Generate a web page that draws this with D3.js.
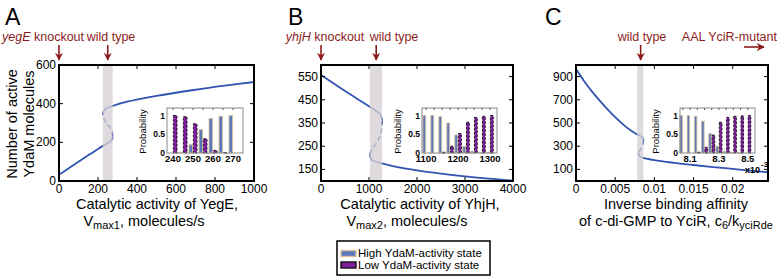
<!DOCTYPE html>
<html>
<head>
<meta charset="utf-8">
<script src="https://cdn.jsdelivr.net/npm/d3@7"></script>
<style>
  body { margin: 0; background: #fff; }
  svg { display: block; font-family: Helvetica, Arial, "Liberation Sans", sans-serif; }
</style>
</head>
<body>
<div id="chart"></div>
<script>
const width = 779;
const height = 276;
const blue = "#2f55b0";
const darkRed = "#8b1c1c";

// panel A: YegE activity vs active YdaM
const aXTicks = [0, 200, 400, 600, 800, 1000];
const aYTicks = [0, 200, 400, 600];
const aLower = [[0, 32], [50, 66], [100, 99], [150, 133], [200, 166], [240, 190], [262, 204], [272, 216], [275, 230]];
const aUnstable = [[275, 230], [272, 252], [262, 275], [245, 298], [232, 318], [226, 340]];
const aUpper = [[226, 340], [228, 358], [240, 374], [275, 388], [350, 410], [500, 440], [700, 472], [850, 493], [1000, 512]];
const aBand = [225, 275];
const aInsetX = [240, 245, 250, 255, 260, 265, 270];
const aInsetHigh = [0, 0.02, 0.22, 0.62, 0.92, 0.98, 1.0];
const aInsetLow = [1.0, 0.97, 0.78, 0.38, 0.07, 0.01, 0];

// panel B: YhjH activity
const bXTicks = [0, 1000, 2000, 3000, 4000];
const bYTicks = [150, 250, 350, 450, 550];
const bUpper = [[0, 557], [250, 522], [500, 488], [750, 455], [1000, 422], [1150, 402], [1240, 385], [1270, 362]];
const bUnstable = [[1270, 362], [1260, 325], [1220, 290], [1150, 262], [1070, 240], [1022, 215]];
const bLower = [[1022, 215], [1040, 196], [1100, 186], [1270, 176], [1500, 164], [2000, 146], [2500, 132], [3000, 120], [3500, 110], [4000, 102]];
const bBand = [1020, 1270];
const bInsetX = [1100, 1125, 1150, 1175, 1200, 1225, 1250, 1275, 1300];
const bInsetHigh = [1, 1, 0.97, 0.8, 0.48, 0.18, 0.05, 0.02, 0.01];
const bInsetLow = [0, 0, 0.02, 0.18, 0.52, 0.82, 0.95, 0.98, 1.0];

// panel C: inverse binding affinity
const cXTicks = [0, 0.005, 0.01, 0.015, 0.02];
const cYTicks = [100, 300, 500, 700, 900];
const cUpper = [[0, 965], [0.001, 865], [0.002, 775], [0.003, 695], [0.004, 620], [0.005, 550], [0.006, 488], [0.007, 435], [0.0078, 402], [0.0084, 380], [0.0086, 355]];
const cUnstable = [[0.0086, 355], [0.0085, 315], [0.0083, 280], [0.00795, 245]];
const cLower = [[0.00795, 245], [0.0081, 215], [0.0086, 200], [0.01, 180], [0.0125, 157], [0.015, 138], [0.0175, 120], [0.02, 104], [0.0225, 88], [0.0245, 76]];
const cBand = [0.0078, 0.0086];
const cInsetX = [8.05, 8.1, 8.15, 8.2, 8.25, 8.3, 8.35, 8.4, 8.45, 8.5];
const cInsetHigh = [1, 1, 0.98, 0.85, 0.52, 0.18, 0.05, 0.02, 0.01, 0];
const cInsetLow = [0, 0, 0.02, 0.15, 0.48, 0.82, 0.95, 0.98, 0.99, 1.0];

const legendLabels = ["High YdaM-activity state", "Low YdaM-activity state"];

const svg = d3.select("#chart").append("svg")
    .attr("width", width)
    .attr("height", height);

const defs = svg.append("defs");
defs.append("marker")
    .attr("id", "head")
    .attr("viewBox", "0 0 10 10")
    .attr("refX", 9).attr("refY", 5)
    .attr("markerWidth", 5).attr("markerHeight", 5)
    .attr("orient", "auto")
    .append("path")
    .attr("d", "M0,0 L10,5 L0,10 L3,5 Z")
    .attr("fill", darkRed);

const panels = [
    {
        letter: "A", lx: 5, box: [59, 254, 65, 181],
        xDomain: [0, 1000], yDomain: [0, 600], xTicks: aXTicks, yTicks: aYTicks,
        lower: aLower, unstable: aUnstable, upper: aUpper, band: aBand,
        xFmt: d => d,
        inset: { box: [167, 243, 108, 153], domain: [237, 275], ticks: [240, 250, 260, 270], x: aInsetX, high: aInsetHigh, low: aInsetLow, fmt: d => d },
        yLabel: ["Number of active", "YdaM molecules"],
        xLabel1: "Catalytic activity of YegE,", sub: ["V", "max1", ", molecules/s"], xl1: 157, xl2: 144
    },
    {
        letter: "B", lx: 288, box: [321, 513, 65, 181],
        xDomain: [0, 4000], yDomain: [100, 600], xTicks: bXTicks, yTicks: bYTicks,
        lower: bLower, unstable: bUnstable, upper: bUpper, band: bBand,
        xFmt: d => d,
        inset: { box: [422, 497, 108, 153], domain: [1087, 1322], ticks: [1100, 1200, 1300], x: bInsetX, high: bInsetHigh, low: bInsetLow, fmt: d => d },
        xLabel1: "Catalytic activity of YhjH,", sub: ["V", "max2", ", molecules/s"], xl1: 420, xl2: 407
    },
    {
        letter: "C", lx: 545, box: [576, 768, 65, 181],
        xDomain: [0, 0.0245], yDomain: [0, 1000], xTicks: cXTicks, yTicks: cYTicks,
        lower: cLower, unstable: cUnstable, upper: cUpper, band: cBand,
        xFmt: d => d === 0 ? "0" : d3.format("")(d),
        inset: { box: [680, 755, 108, 153], domain: [8.03, 8.55], ticks: [8.1, 8.3, 8.5], x: cInsetX, high: cInsetHigh, low: cInsetLow, fmt: d3.format(".1f") },
        xLabel1: "Inverse binding affinity", xl1: 676, xl2: 676
    }
];

panels.forEach(p => {
    const [x0, x1, y0, y1] = p.box;
    const x = d3.scaleLinear().domain(p.xDomain).range([x0, x1]);
    const y = d3.scaleLinear().domain(p.yDomain).range([y1, y0]);
    const g = svg.append("g");

    g.append("text")
        .attr("x", p.lx).attr("y", 25)
        .attr("font-size", 23)
        .text(p.letter);

    const clip = "clip" + p.letter;
    defs.append("clipPath").attr("id", clip)
        .append("rect").attr("x", x0).attr("y", y0).attr("width", x1 - x0).attr("height", y1 - y0);

    const line = d3.line().x(d => x(d[0])).y(d => y(d[1])).curve(d3.curveCatmullRom);
    const plot = g.append("g").attr("clip-path", `url(#${clip})`);

    plot.append("path").attr("d", line(p.lower))
        .attr("fill", "none").attr("stroke", blue).attr("stroke-width", 1.8);
    plot.append("path").attr("d", line(p.upper))
        .attr("fill", "none").attr("stroke", blue).attr("stroke-width", 1.8);
    plot.append("path").attr("d", line(p.unstable))
        .attr("fill", "none").attr("stroke", blue).attr("stroke-width", 1.8)
        .attr("stroke-dasharray", "5,3");

    // bistable band, laid over the curve so it looks faded there
    plot.append("rect")
        .attr("x", x(p.band[0])).attr("y", y0)
        .attr("width", x(p.band[1]) - x(p.band[0])).attr("height", y1 - y0)
        .attr("fill", "#d6d0d3").attr("opacity", 0.78);

    // inward ticks on all four sides
    const tl = 4;
    p.xTicks.forEach(t => {
        g.append("line").attr("x1", x(t)).attr("x2", x(t)).attr("y1", y1).attr("y2", y1 - tl).attr("stroke", "#000");
        g.append("line").attr("x1", x(t)).attr("x2", x(t)).attr("y1", y0).attr("y2", y0 + tl).attr("stroke", "#000");
        g.append("text").attr("x", x(t)).attr("y", y1 + 12)
            .attr("text-anchor", "middle").attr("font-size", 12)
            .text(p.xFmt(t));
    });
    p.yTicks.forEach(t => {
        g.append("line").attr("x1", x0).attr("x2", x0 + tl).attr("y1", y(t)).attr("y2", y(t)).attr("stroke", "#000");
        g.append("line").attr("x1", x1).attr("x2", x1 - tl).attr("y1", y(t)).attr("y2", y(t)).attr("stroke", "#000");
        g.append("text").attr("x", x0 - 3).attr("y", y(t) + 4)
            .attr("text-anchor", "end").attr("font-size", 12)
            .text(t);
    });
    g.append("rect")
        .attr("x", x0).attr("y", y0).attr("width", x1 - x0).attr("height", y1 - y0)
        .attr("fill", "none").attr("stroke", "#000").attr("stroke-width", 2);

    drawInset(g, p.inset);

    // axis labels
    g.append("text").attr("x", p.xl1).attr("y", 209)
        .attr("text-anchor", "middle").attr("font-size", 14.5)
        .text(p.xLabel1);
    const t2 = g.append("text").attr("x", p.xl2).attr("y", 226)
        .attr("text-anchor", "middle").attr("font-size", 14.5);
    if (p.sub) {
        t2.append("tspan").text(p.sub[0]);
        t2.append("tspan").attr("font-size", 11).attr("dy", 3).text(p.sub[1]);
        t2.append("tspan").attr("dy", -3).text(p.sub[2]);
    } else {
        t2.append("tspan").text("of c-di-GMP to YciR, c");
        t2.append("tspan").attr("font-size", 11).attr("dy", 3).text("6");
        t2.append("tspan").attr("dy", -3).text("/k");
        t2.append("tspan").attr("font-size", 11).attr("dy", 3).text("yciRde");
    }
    if (p.yLabel) {
        p.yLabel.forEach((s, i) => {
            g.append("text")
                .attr("transform", `translate(${17 + i * 17},124) rotate(-90)`)
                .attr("text-anchor", "middle").attr("font-size", 14.5)
                .text(s);
        });
    }
    p.x = x;
});

function drawInset(g, s) {
    const [ix0, ix1, iy0, iy1] = s.box;
    const ix = d3.scaleLinear().domain(s.domain).range([ix0, ix1]);
    const iy = d3.scaleLinear().domain([0, 1.2]).range([iy1, iy0]);
    const step = ix(s.x[1]) - ix(s.x[0]);
    const bw = step * 0.36;

    g.append("rect")
        .attr("x", ix0).attr("y", iy0).attr("width", ix1 - ix0).attr("height", iy1 - iy0)
        .attr("fill", "#fff");

    g.selectAll(null).data(s.x).enter().append("rect")
        .attr("x", (d) => ix(d) - bw - 0.4)
        .attr("y", (d, i) => iy(s.high[i]))
        .attr("width", bw)
        .attr("height", (d, i) => iy1 - iy(s.high[i]))
        .attr("fill", "#5b77b9").attr("stroke", "#d9c39e").attr("stroke-width", 0.9);

    g.selectAll(null).data(s.x).enter().append("rect")
        .attr("x", (d) => ix(d) + 0.4)
        .attr("y", (d, i) => iy(s.low[i]))
        .attr("width", bw)
        .attr("height", (d, i) => iy1 - iy(s.low[i]))
        .attr("fill", "#7f1fa0").attr("stroke", "#111").attr("stroke-width", 0.9)
        .attr("stroke-dasharray", "2.5,1.5");

    s.x.forEach(t => {
        g.append("line").attr("x1", ix(t)).attr("x2", ix(t)).attr("y1", iy0).attr("y2", iy0 + 2).attr("stroke", "#444");
    });
    s.ticks.forEach(t => {
        g.append("text").attr("x", ix(t)).attr("y", iy1 + 9)
            .attr("text-anchor", "middle").attr("font-size", 9.5).attr("font-weight", "bold")
            .text(s.fmt(t));
    });
    [[0, "0"], [0.5, "0.5"], [1, "1"]].forEach(([v, lab]) => {
        g.append("text").attr("x", ix0 - 2).attr("y", iy(v) + 3)
            .attr("text-anchor", "end").attr("font-size", 8.5).attr("font-weight", "bold")
            .text(lab);
    });
    g.append("text")
        .attr("transform", `translate(${ix0 - 21},${(iy0 + iy1) / 2 + 1}) rotate(-90)`)
        .attr("text-anchor", "middle").attr("font-size", 9.5)
        .text("Probability");
    g.append("rect")
        .attr("x", ix0).attr("y", iy0).attr("width", ix1 - ix0).attr("height", iy1 - iy0)
        .attr("fill", "none").attr("stroke", "#8a8a8a").attr("stroke-width", 1);
}

// x10^-3 multiplier for the C inset
svg.append("text").attr("x", 745).attr("y", 173).attr("font-size", 9).attr("font-weight", "bold").text("x10");
svg.append("text").attr("x", 761).attr("y", 167).attr("font-size", 8).attr("font-weight", "bold").text("-3");

// annotations with arrows
const annotations = [
    { panel: 0, at: 0, italic: "yegE", rest: " knockout", cx: 2, anchor: "start" },
    { panel: 0, at: 250, italic: "", rest: "wild type", cx: 111, anchor: "middle" },
    { panel: 1, at: 0, italic: "yhjH", rest: " knockout", cx: 325, anchor: "middle" },
    { panel: 1, at: 1150, italic: "", rest: "wild type", cx: 394, anchor: "middle" },
    { panel: 2, at: 0.00825, italic: "", rest: "wild type", cx: 642, anchor: "middle" }
];
annotations.forEach(a => {
    const ax = panels[a.panel].x(a.at);
    const t = svg.append("text").attr("x", a.cx).attr("y", 41)
        .attr("text-anchor", a.anchor).attr("font-size", 12.5).attr("fill", darkRed);
    if (a.italic) t.append("tspan").attr("font-style", "italic").text(a.italic);
    t.append("tspan").text(a.rest);
    svg.append("line")
        .attr("x1", ax).attr("x2", ax).attr("y1", 45).attr("y2", 60)
        .attr("stroke", darkRed).attr("stroke-width", 1.6)
        .attr("marker-end", "url(#head)");
});
svg.append("text").attr("x", 777).attr("y", 41)
    .attr("text-anchor", "end").attr("font-size", 12.5).attr("fill", darkRed)
    .text("AAL YciR-mutant");
svg.append("line")
    .attr("x1", 744).attr("x2", 764).attr("y1", 47).attr("y2", 47)
    .attr("stroke", darkRed).attr("stroke-width", 1.6)
    .attr("marker-end", "url(#head)");

// legend
const legend = svg.append("g");
legend.append("rect")
    .attr("x", 337).attr("y", 241).attr("width", 153).attr("height", 34)
    .attr("fill", "#fff").attr("stroke", "#000").attr("stroke-width", 1.5);
legendLabels.forEach((lab, i) => {
    legend.append("rect")
        .attr("x", 341).attr("y", 250.5 + i * 11.5).attr("width", 15).attr("height", 6)
        .attr("fill", i === 0 ? "#5b77b9" : "#7f1fa0")
        .attr("stroke", i === 0 ? "#d9c39e" : "#111").attr("stroke-width", 1.4);
    legend.append("text")
        .attr("x", 358).attr("y", 257 + i * 11.5)
        .attr("font-size", 11.5)
        .text(lab);
});
</script>
</body>
</html>
